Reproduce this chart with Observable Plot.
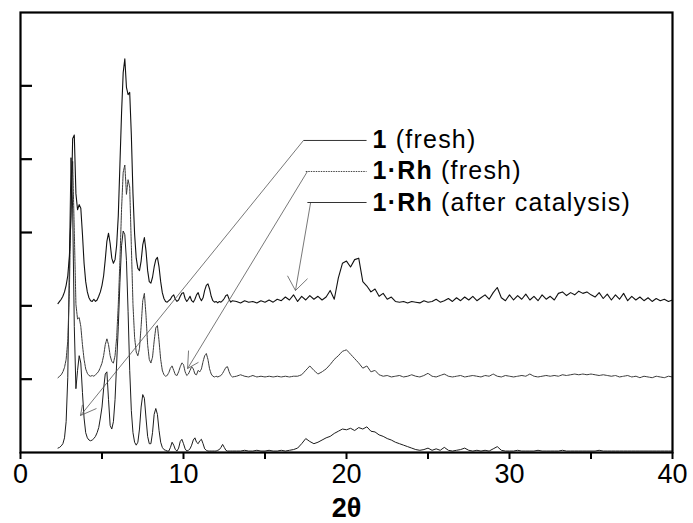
<!DOCTYPE html>
<html><head><meta charset="utf-8">
<script src="https://cdn.jsdelivr.net/npm/d3@7"></script>
<script src="https://cdn.jsdelivr.net/npm/@observablehq/plot@0.6"></script>
<style>body{margin:0;background:#fff;} svg text{white-space:pre;}</style>
</head><body><div id="chart"></div>
<script>
// 2θ grid (degrees)
const twoTheta = [
2.3,2.4,2.5,2.6,2.7,2.8,2.9,
3.0,3.1,3.2,3.3,3.4,3.5,3.6,3.7,3.8,3.9,
4.0,4.1,4.2,4.3,4.4,4.5,4.6,4.7,4.8,4.9,
5.0,5.1,5.2,5.3,5.4,5.5,5.6,5.7,5.8,5.9,
6.0,6.1,6.2,6.3,6.4,6.5,6.6,6.7,6.8,6.9,
7.0,7.1,7.2,7.3,7.4,7.5,7.6,7.7,7.8,7.9,
8.0,8.1,8.2,8.3,8.4,8.5,8.6,8.7,8.8,8.9,
9.0,9.1,9.2,9.3,9.4,9.5,9.6,9.7,9.8,9.9,
10.0,10.1,10.2,10.3,10.4,10.5,10.6,10.7,10.8,10.9,
11.0,11.1,11.2,11.3,11.4,11.5,11.6,11.7,11.8,11.9,
12.0,12.1,12.2,12.3,12.4,12.5,12.6,12.7,12.8,12.9,
13.0,
13.25,13.5,13.75,
14,14.25,14.5,14.75, 15,15.25,15.5,15.75, 16,16.25,16.5,16.75, 17,17.25,17.5,17.75,
18,18.25,18.5,18.75, 19,19.25,19.5,19.75, 20,20.25,20.5,20.75, 21,21.25,21.5,21.75,
22,22.25,22.5,22.75, 23,23.25,23.5,23.75, 24,24.25,24.5,24.75, 25,25.25,25.5,25.75,
26,26.25,26.5,26.75, 27,27.25,27.5,27.75, 28,28.25,28.5,28.75, 29,29.25,29.5,29.75,
30,30.25,30.5,30.75, 31,31.25,31.5,31.75, 32,32.25,32.5,32.75, 33,33.25,33.5,33.75,
34,34.25,34.5,34.75, 35,35.25,35.5,35.75, 36,36.25,36.5,36.75, 37,37.25,37.5,37.75,
38,38.25,38.5,38.75, 39,39.25,39.5,39.75, 40
];

// 1·Rh (after catalysis) – top pattern (intensity above its baseline)
const rhAfter = [
0.00,0.03,0.06,0.10,0.16,0.25,0.38,
0.65,1.2,2.25,2.3,1.5,1.28,1.35,1.3,0.95,0.55,
0.3,0.16,0.08,0.04,0.03,0.06,0.03,0.05,0.1,0.16,
0.25,0.38,0.6,0.85,0.96,0.82,0.62,0.55,0.6,0.8,
1.2,1.9,2.6,3.15,3.34,2.95,2.85,2.88,2.3,1.5,
0.95,0.62,0.48,0.45,0.58,0.8,0.9,0.72,0.45,0.3,
0.28,0.36,0.5,0.6,0.63,0.5,0.3,0.15,0.07,0.03,
0.02,0.04,0.06,0.1,0.12,0.06,0.03,0.05,0.1,0.14,
0.15,0.07,0.03,0.06,0.1,0.04,0.02,0.06,0.12,0.15,
0.08,0.04,0.08,0.18,0.25,0.27,0.2,0.1,0.04,0.02,
0.03,0.01,0.03,0.02,0.04,0.07,0.11,0.12,0.06,0.02,
0.04,
0.03,0.01,0.04,
0.02,0.03,0.01,0.04, 0.02,0.05,0.02,0.06, 0.04,0.09,0.05,0.12, 0.03,0.1,0.05,0.11,
0.06,0.1,0.05,0.09, 0.18,0.06,0.35,0.55, 0.58,0.5,0.6,0.62, 0.3,0.24,0.16,0.2,
0.1,0.14,0.06,0.09, 0.03,0.02,0.03,0.01, 0.03,0.02,0.01,0.04, 0.02,0.03,0.06,0.02,
0.04,0.07,0.03,0.08, 0.04,0.09,0.05,0.1, 0.04,0.08,0.12,0.06, 0.15,0.22,0.08,0.04,
0.12,0.05,0.11,0.06, 0.13,0.05,0.1,0.04, 0.12,0.06,0.1,0.05, 0.14,0.16,0.11,0.15,
0.12,0.17,0.14,0.16, 0.12,0.09,0.15,0.07, 0.13,0.05,0.12,0.06, 0.14,0.04,0.1,0.05,
0.09,0.04,0.08,0.03, 0.07,0.04,0.06,0.03, 0.05
];

// 1·Rh (fresh) – middle pattern
const rhFresh = [
0.0,0.02,0.04,0.08,0.14,0.25,0.5,
1.2,2.4,2.95,2.0,1.0,0.8,0.82,0.7,0.45,0.25,
0.12,0.06,0.03,0.02,0.03,0.02,0.04,0.06,0.09,0.14,
0.2,0.3,0.45,0.53,0.45,0.3,0.22,0.2,0.3,0.55,
1.0,1.6,2.3,2.8,2.9,2.5,2.7,2.6,1.8,1.0,
0.55,0.35,0.3,0.4,0.7,1.05,1.15,0.85,0.45,0.25,
0.2,0.28,0.5,0.68,0.71,0.5,0.25,0.1,0.04,0.02,
0.03,0.07,0.13,0.16,0.1,0.04,0.03,0.08,0.15,0.2,
0.18,0.08,0.03,0.05,0.1,0.15,0.12,0.05,0.04,0.1,
0.08,0.12,0.22,0.3,0.33,0.25,0.12,0.05,0.02,0.01,
0.02,0.01,0.02,0.03,0.06,0.1,0.14,0.15,0.08,0.03,
0.01,
0.02,0.04,0.02,
0.01,0.03,0.01,0.02, 0.01,0.02,0.01,0.02, 0.01,0.02,0.01,0.02, 0.02,0.04,0.1,0.16,
0.1,0.05,0.08,0.12, 0.18,0.25,0.3,0.36, 0.38,0.32,0.26,0.2, 0.13,0.16,0.08,0.1,
0.04,0.02,0.03,0.01, 0.02,0.03,0.01,0.02, 0.04,0.02,0.01,0.03, 0.06,0.02,0.01,0.03,
0.05,0.02,0.01,0.02, 0.03,0.01,0.02,0.03, 0.02,0.01,0.03,0.02, 0.05,0.02,0.01,0.03,
0.02,0.01,0.02,0.03, 0.02,0.05,0.02,0.01, 0.02,0.03,0.02,0.03, 0.02,0.04,0.03,0.04,
0.05,0.04,0.05,0.04, 0.05,0.04,0.03,0.04, 0.03,0.02,0.03,0.01, 0.02,0.03,0.01,0.02,
0.0,0.02,0.01,0.0, 0.02,0.01,0.0,0.02, 0.01
];

// 1 (fresh) – bottom pattern
const fresh1 = [
0.04,0.05,0.07,0.1,0.18,0.4,1.0,
2.6,4.0,3.3,1.7,0.85,1.1,1.3,1.2,0.8,0.45,
0.25,0.18,0.15,0.14,0.15,0.17,0.2,0.25,0.32,0.45,
0.6,0.85,1.05,1.08,0.7,0.35,0.3,0.4,0.7,1.2,
1.7,2.3,2.8,3.0,2.95,2.6,1.9,1.1,0.55,0.25,
0.12,0.08,0.12,0.3,0.6,0.77,0.72,0.45,0.2,0.1,
0.1,0.25,0.5,0.58,0.5,0.28,0.12,0.05,0.02,0.01,
0.0,0.0,0.05,0.12,0.08,0.02,0.0,0.04,0.13,0.16,
0.1,0.03,0.0,0.01,0.03,0.08,0.15,0.18,0.12,0.1,
0.14,0.16,0.1,0.03,0.01,0.0,0.0,0.0,0.0,0.0,
0.0,0.01,0.02,0.05,0.09,0.05,0.01,0.0,0.0,0.0,
0.0,
0.0,0.0,0.01,
0.0,0.0,0.01,0.0, 0.0,0.01,0.0,0.0, 0.01,0.0,0.01,0.02, 0.04,0.1,0.17,0.13,
0.1,0.12,0.15,0.18, 0.2,0.24,0.27,0.3, 0.29,0.31,0.28,0.32, 0.3,0.33,0.27,0.26,
0.22,0.2,0.17,0.15, 0.12,0.1,0.08,0.06, 0.04,0.02,0.01,0.02, 0.04,0.01,0.03,0.01,
0.05,0.01,0.0,0.01, 0.02,0.04,0.01,0.0, 0.01,0.0,0.01,0.0, 0.03,0.06,0.01,0.0,
0.0,0.0,0.01,0.0, 0.0,0.0,0.0,0.01, 0.0,0.0,0.0,0.0, 0.0,0.01,0.0,0.0,
0.0,0.0,0.0,0.0, 0.0,0.0,0.01,0.0, 0.0,0.0,0.0,0.0, 0.0,0.0,0.0,0.0,
0.0,0.0,0.0,0.0, 0.0,0.0,0.0,0.0, 0.0
];

const seriesNames = ["1 (fresh)", "1·Rh (fresh)", "1·Rh (after catalysis)"];
const seriesValues = [fresh1, rhFresh, rhAfter];
const seriesOffsets = [0.02, 1.02, 2.03];

const xMajorTicks = [0, 10, 20, 30, 40];
const xMinorTicks = [5, 15, 25, 35];
const yTicks = [1, 2, 3, 4, 5];
const xLabel = "2θ";

// legend (annotation) content
const legendBold = ["1", "1·Rh", "1·Rh"];
const legendRest = [" (fresh)", " (fresh)", " (after catalysis)"];
const legendY = [4.255, 3.832, 3.409];
const legendLineX1 = [17.36, 17.5, 17.6];
const legendLineX2 = [21.23, 21.23, 21.23];
const legendTextX = 21.6;
// leader lines: from legend line start to arrow tip on each pattern
const leaderFromX = [17.36, 17.6, 17.8];
const leaderTipX = [3.68, 10.25, 16.87];
const leaderTipY = [0.504, 1.145, 2.209];
const arrowArmAX = [3.8, 10.31, 16.38];
const arrowArmAY = [0.65, 1.39, 2.41];
const arrowArmBX = [4.66, 10.92, 17.61];
const arrowArmBY = [0.6, 1.23, 2.37];

const legendLabels = legendBold.map((b, i) => b + legendRest[i]);

const lineStyles = [
  {stroke: "#1c1c1c", width: 1.0, dash: null},
  {stroke: "#3a3a3a", width: 1.0, dash: "2,0.8"},
  {stroke: "#111", width: 1.1, dash: null}
];

const traces = seriesValues.map((vals, s) =>
  twoTheta.map((t, i) => ({x: t, y: vals[i] + seriesOffsets[s], s}))
);

const legendRows = legendLabels.map((label, i) => ({
  label, y: legendY[i], x1: legendLineX1[i], x2: legendLineX2[i], i
}));
const leaders = leaderFromX.map((x, i) => ({
  x1: x, y1: legendY[i], x2: leaderTipX[i], y2: leaderTipY[i]
}));
const arrowArms = [];
leaderTipX.forEach((x, i) => {
  arrowArms.push({x1: x, y1: leaderTipY[i], x2: arrowArmAX[i], y2: arrowArmAY[i]});
  arrowArms.push({x1: x, y1: leaderTipY[i], x2: arrowArmBX[i], y2: arrowArmBY[i]});
});

const font = "'Liberation Sans', Arial, Helvetica, sans-serif";

const plot = Plot.plot({
  width: 693,
  height: 523,
  marginLeft: 20,
  marginRight: 21,
  marginTop: 12,
  marginBottom: 71,
  style: {fontFamily: font, background: "#fff", color: "#000"},
  x: {domain: [0, 40]},
  y: {domain: [0, 6], axis: null},
  marks: [
    ...traces.map((data, s) => Plot.line(data, {
      x: "x", y: "y", stroke: lineStyles[s].stroke, strokeWidth: lineStyles[s].width,
      strokeDasharray: lineStyles[s].dash, curve: "linear"
    })),
    Plot.link(leaders, {x1: "x1", y1: "y1", x2: "x2", y2: "y2", stroke: "#555", strokeWidth: 0.8}),
    Plot.link(arrowArms, {x1: "x1", y1: "y1", x2: "x2", y2: "y2", stroke: "#555", strokeWidth: 0.8}),
    Plot.link(legendRows.filter(d => d.i !== 1), {x1: "x1", x2: "x2", y1: "y", y2: "y", stroke: "#333", strokeWidth: 1}),
    Plot.link(legendRows.filter(d => d.i === 1), {x1: "x1", x2: "x2", y1: "y", y2: "y", stroke: "#444", strokeWidth: 1, strokeDasharray: "1.5,1"}),
    Plot.text(legendRows, {x: legendTextX, y: "y", text: "label", textAnchor: "start", lineAnchor: "middle", fontSize: 25, fill: "#000"}),
    Plot.tickY(yTicks, {y: d => d, insetRight: 640, stroke: "#000", strokeWidth: 2.2}),
    Plot.axisX({ticks: xMinorTicks, tickSize: 7, tickFormat: () => "", strokeWidth: 2, label: null}),
    Plot.axisX({ticks: xMajorTicks, tickSize: 7, tickPadding: 4, fontSize: 27, strokeWidth: 2, label: null, tickFormat: d => String(d)}),
    Plot.text([xLabel], {frameAnchor: "bottom", dy: 56, fontSize: 27, fontWeight: "bold", lineAnchor: "middle", fill: "#000"}),
    Plot.frame({stroke: "#000", strokeWidth: 2.2})
  ]
});

const ns = "http://www.w3.org/2000/svg";
plot.querySelectorAll("text").forEach(t => {
  const i = legendLabels.indexOf(t.textContent);
  if (i >= 0) {
    t.textContent = "";
    t.setAttribute("letter-spacing", "1.2");
    const b = document.createElementNS(ns, "tspan");
    b.setAttribute("font-weight", "bold");
    b.textContent = legendBold[i];
    const r = document.createElementNS(ns, "tspan");
    r.textContent = legendRest[i];
    t.appendChild(b);
    t.appendChild(r);
  }
});
document.getElementById("chart").appendChild(plot);
</script>
</body></html>
